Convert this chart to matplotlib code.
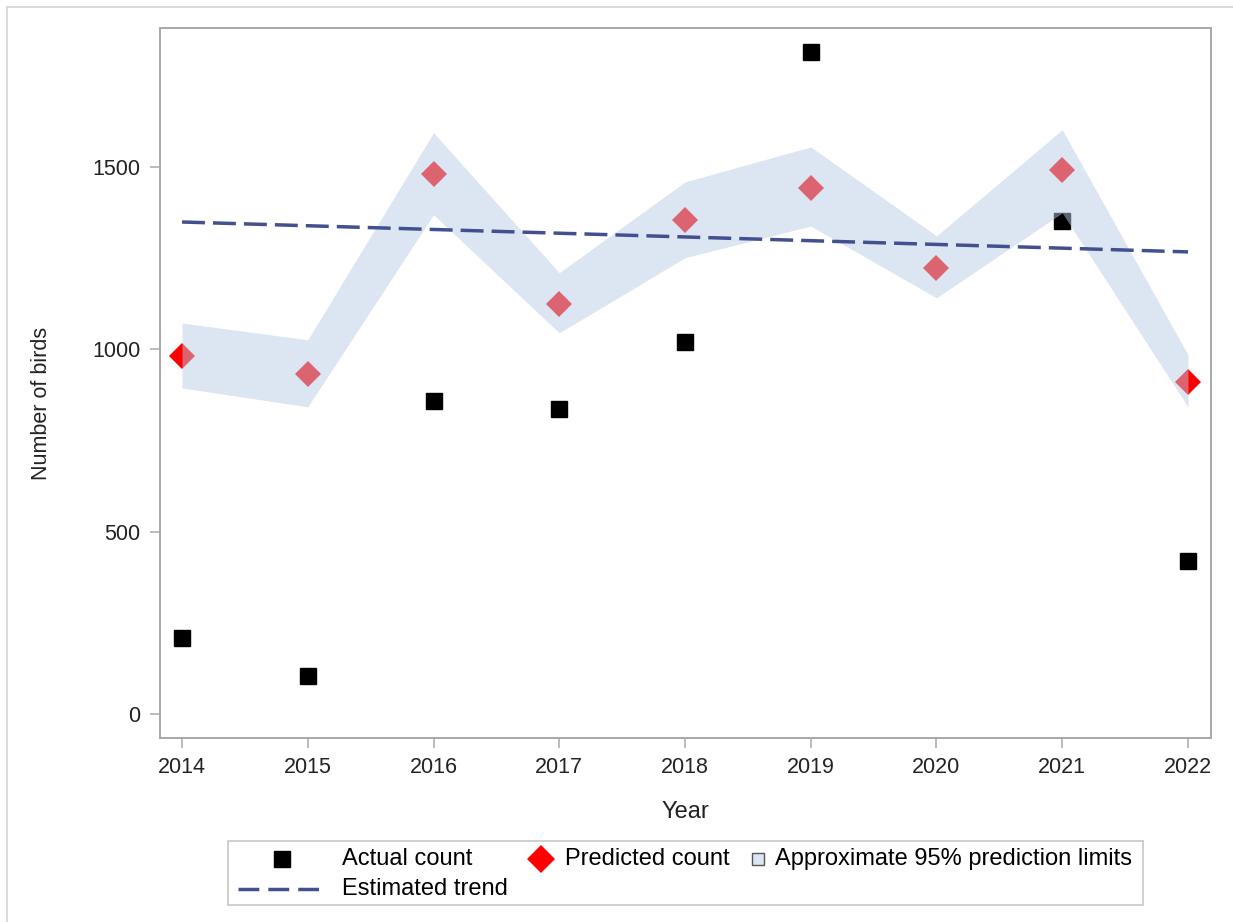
"""Bird count chart: actual vs predicted counts with prediction band and trend."""

import matplotlib

matplotlib.use("Agg")
import matplotlib.pyplot as plt
import numpy as np
from matplotlib.lines import Line2D
from matplotlib.patches import Rectangle

W, H, DPI = 1233, 922, 100

years = [2014, 2015, 2016, 2017, 2018, 2019, 2020, 2021, 2022]
actual_count = [208, 104, 858, 836, 1020, 1815, np.nan, 1352, 420]
predicted_count = [982, 932, 1481, 1124, 1355, 1443, 1223, 1492, 911]
lower_limit = [894, 842, 1369, 1045, 1251, 1338, 1141, 1374, 842]
upper_limit = [1072, 1026, 1594, 1210, 1459, 1555, 1311, 1602, 985]
trend_start, trend_end = 1349, 1267

y_ticks = [0, 500, 1000, 1500]

BAND = "#b8cce5"
TREND = "#42508f"
AXIS_GRAY = "#a8a8a8"

plt.rcParams["font.family"] = ["Liberation Sans", "DejaVu Sans"]
plt.rcParams["lines.scale_dashes"] = False

fig = plt.figure(figsize=(W / DPI, H / DPI), dpi=DPI)
ax = fig.add_axes([160 / W, 1 - 738 / H, (1211 - 160) / W, (738 - 28) / H])

yrs = np.array(years, dtype=float)
ax.plot(yrs, actual_count, linestyle="none", marker="s", markersize=12.2,
        color="black", zorder=2)
ax.plot(yrs, predicted_count, linestyle="none", marker="D", markersize=13.2,
        color="#ff0000", markeredgewidth=0, zorder=2)
ax.fill_between(yrs, lower_limit, upper_limit, color=BAND, alpha=0.49,
                linewidth=0, zorder=3)
trend = np.linspace(trend_start, trend_end, len(years))
ax.plot(yrs, trend, color=TREND, linewidth=2.5, dashes=(16.5, 5.8), zorder=4)

ax.set_xlim(2013.825, 2022.183)
ax.set_ylim(-66, 1881)
ax.set_xticks(years)
ax.set_yticks(y_ticks)
ax.tick_params(length=7, width=1.1, color=AXIS_GRAY, labelsize=15.5,
               labelcolor="#222222", pad=7)
for spine in ax.spines.values():
    spine.set_color(AXIS_GRAY)
    spine.set_linewidth(1.4)

fig.text(685.5 / W, 1 - 812 / H, "Year", ha="center", va="center",
         fontsize=17, color="#222222")
fig.text(42 / W, 1 - 403 / H, "Number of birds", ha="center", va="center",
         rotation=90, fontsize=15.5, color="#222222")

# legend box drawn in its own pixel-unit axes
lg = fig.add_axes([228 / W, 1 - 905 / H, 915 / W, 64 / H])
lg.set_xlim(0, 915)
lg.set_ylim(64, 0)
lg.set_xticks([])
lg.set_yticks([])
for spine in lg.spines.values():
    spine.set_color("#cfcfcf")
    spine.set_linewidth(1.4)
lg.plot([54], [18], marker="s", markersize=12.2, color="black")
lg.text(114, 18, "Actual count", va="center", fontsize=17)
lg.plot([10, 92], [48, 48], color=TREND, linewidth=2.5, dashes=(15, 6.5))
lg.text(114, 48, "Estimated trend", va="center", fontsize=17)
lg.plot([313], [18], marker="D", markersize=14, color="#ff0000",
        markeredgewidth=0)
lg.text(337, 18, "Predicted count", va="center", fontsize=17)
lg.add_patch(Rectangle((524, 12), 12, 12, facecolor="#dce6f2",
                       edgecolor="#555555", linewidth=1))
lg.text(547, 18, "Approximate 95% prediction limits", va="center", fontsize=17)

# thin outer frame on the top and left edges
fig.add_artist(Line2D([7 / W, 1], [1 - 7 / H, 1 - 7 / H], color="#d4d4d4",
                      linewidth=1.2, transform=fig.transFigure))
fig.add_artist(Line2D([7 / W, 7 / W], [0, 1 - 7 / H], color="#d4d4d4",
                      linewidth=1.2, transform=fig.transFigure))

fig.savefig("out.png", dpi=DPI)
